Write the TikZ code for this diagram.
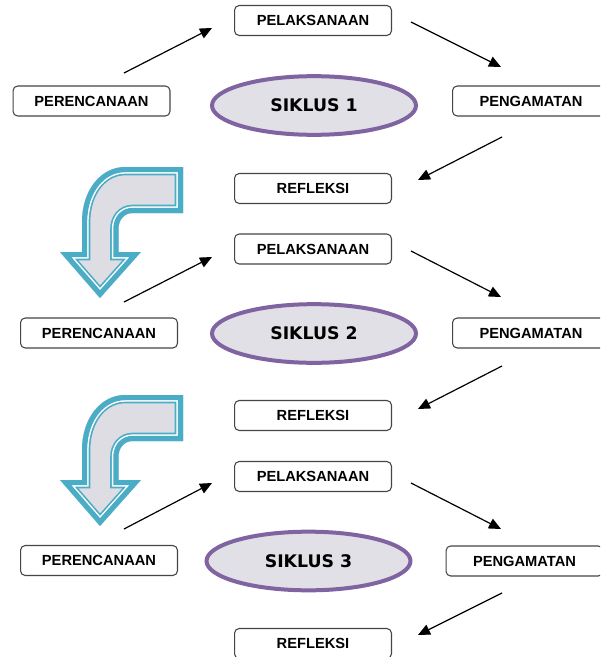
\documentclass[tikz,border=0pt]{standalone}
\usepackage{fontspec}
\setmainfont{Liberation Sans}
\newfontfamily\comicfont{DejaVu Sans}
\usetikzlibrary{shapes.geometric,arrows.meta}
\definecolor{boxline}{HTML}{454545}
\definecolor{tealline}{HTML}{4BACC6}
\definecolor{arrowfill}{HTML}{DEDDE3}
\definecolor{purpline}{HTML}{8064A2}
\definecolor{ellfill}{HTML}{E1E0E6}
\def\bentpath{(100,298) -- (141,252) -- (118.5,252) -- (118.5,229)
  .. controls (118.5,220) and (124,213) .. (133,213) -- (183,213) -- (183,167) -- (125,167)
  .. controls (101,167) and (82,190) .. (82,222) -- (82,252) -- (60,252) -- cycle}
\begin{document}
\begin{tikzpicture}[x=0.75pt,y=-0.75pt,
  stagebox/.style={draw=boxline, line width=0.8pt, rounded corners=3.5pt, fill=white,
    minimum width=117.7pt, minimum height=22.5pt, inner sep=0pt,
    font=\bfseries\fontsize{11}{13}\selectfont},
  cyclebox/.style={ellipse, draw=purpline, line width=3pt, fill=ellfill,
    minimum width=153pt, minimum height=44pt, inner sep=0pt,
    font=\comicfont\bfseries\fontsize{13}{15}\selectfont},
  arr/.style={-{Triangle[length=9pt,width=8pt]}, line width=0.9pt, black},
  bentdeco/.style={line join=miter, miter limit=20}]
\useasboundingbox (0,0) rectangle (600,657);
\clip (0,0) rectangle (600,657);

% bent arrows
\foreach \dy in {0,228} {
  \begin{scope}[shift={(0,\dy)}]
    \begin{scope}
      \clip \bentpath;
      \fill[arrowfill] \bentpath;
      \draw[tealline, line width=12.5pt, bentdeco] \bentpath;
      \draw[white, line width=10pt, bentdeco] \bentpath;
      \draw[tealline, line width=7.8pt, bentdeco] \bentpath;
    \end{scope}
  \end{scope}
}

% cycle 1
\node[stagebox] (pel1) at (313,20.5) {PELAKSANAAN};
\node[stagebox] (per1) at (91.5,101) {PERENCANAAN};
\node[stagebox] (pgm1) at (531,101) {PENGAMATAN};
\node[stagebox] (ref1) at (313,188.5) {REFLEKSI};
\node[cyclebox] (sik1) at (314,105.5) {SIKLUS 1};
\coordinate (a1s) at (124,73);  \coordinate (a1e) at (212,28);
\coordinate (b1s) at (411,22);  \coordinate (b1e) at (501,67);
\coordinate (c1s) at (502,137); \coordinate (c1e) at (418,180);
\draw[arr] (a1s) -- (a1e);
\draw[arr] (b1s) -- (b1e);
\draw[arr] (c1s) -- (c1e);

% cycle 2
\node[stagebox] (pel2) at (313,249) {PELAKSANAAN};
\node[stagebox] (per2) at (99,333) {PERENCANAAN};
\node[stagebox] (pgm2) at (531,333) {PENGAMATAN};
\node[stagebox] (ref2) at (313,415.5) {REFLEKSI};
\node[cyclebox] (sik2) at (314,333.5) {SIKLUS 2};
\coordinate (a2s) at (124,302); \coordinate (a2e) at (212,257);
\coordinate (b2s) at (411,251); \coordinate (b2e) at (501,297);
\coordinate (c2s) at (502,366); \coordinate (c2e) at (418,409);
\draw[arr] (a2s) -- (a2e);
\draw[arr] (b2s) -- (b2e);
\draw[arr] (c2s) -- (c2e);

% cycle 3
\node[stagebox] (pel3) at (313,476.5) {PELAKSANAAN};
\node[stagebox] (per3) at (99,560.5) {PERENCANAAN};
\node[stagebox] (pgm3) at (524.5,561) {PENGAMATAN};
\node[stagebox] (ref3) at (313,643.5) {REFLEKSI};
\node[cyclebox] (sik3) at (308.5,561) {SIKLUS 3};
\coordinate (a3s) at (124,529); \coordinate (a3e) at (212,483);
\coordinate (b3s) at (411,483); \coordinate (b3e) at (501,529);
\coordinate (c3s) at (502,593); \coordinate (c3e) at (418,635);
\draw[arr] (a3s) -- (a3e);
\draw[arr] (b3s) -- (b3e);
\draw[arr] (c3s) -- (c3e);
\end{tikzpicture}
\end{document}
